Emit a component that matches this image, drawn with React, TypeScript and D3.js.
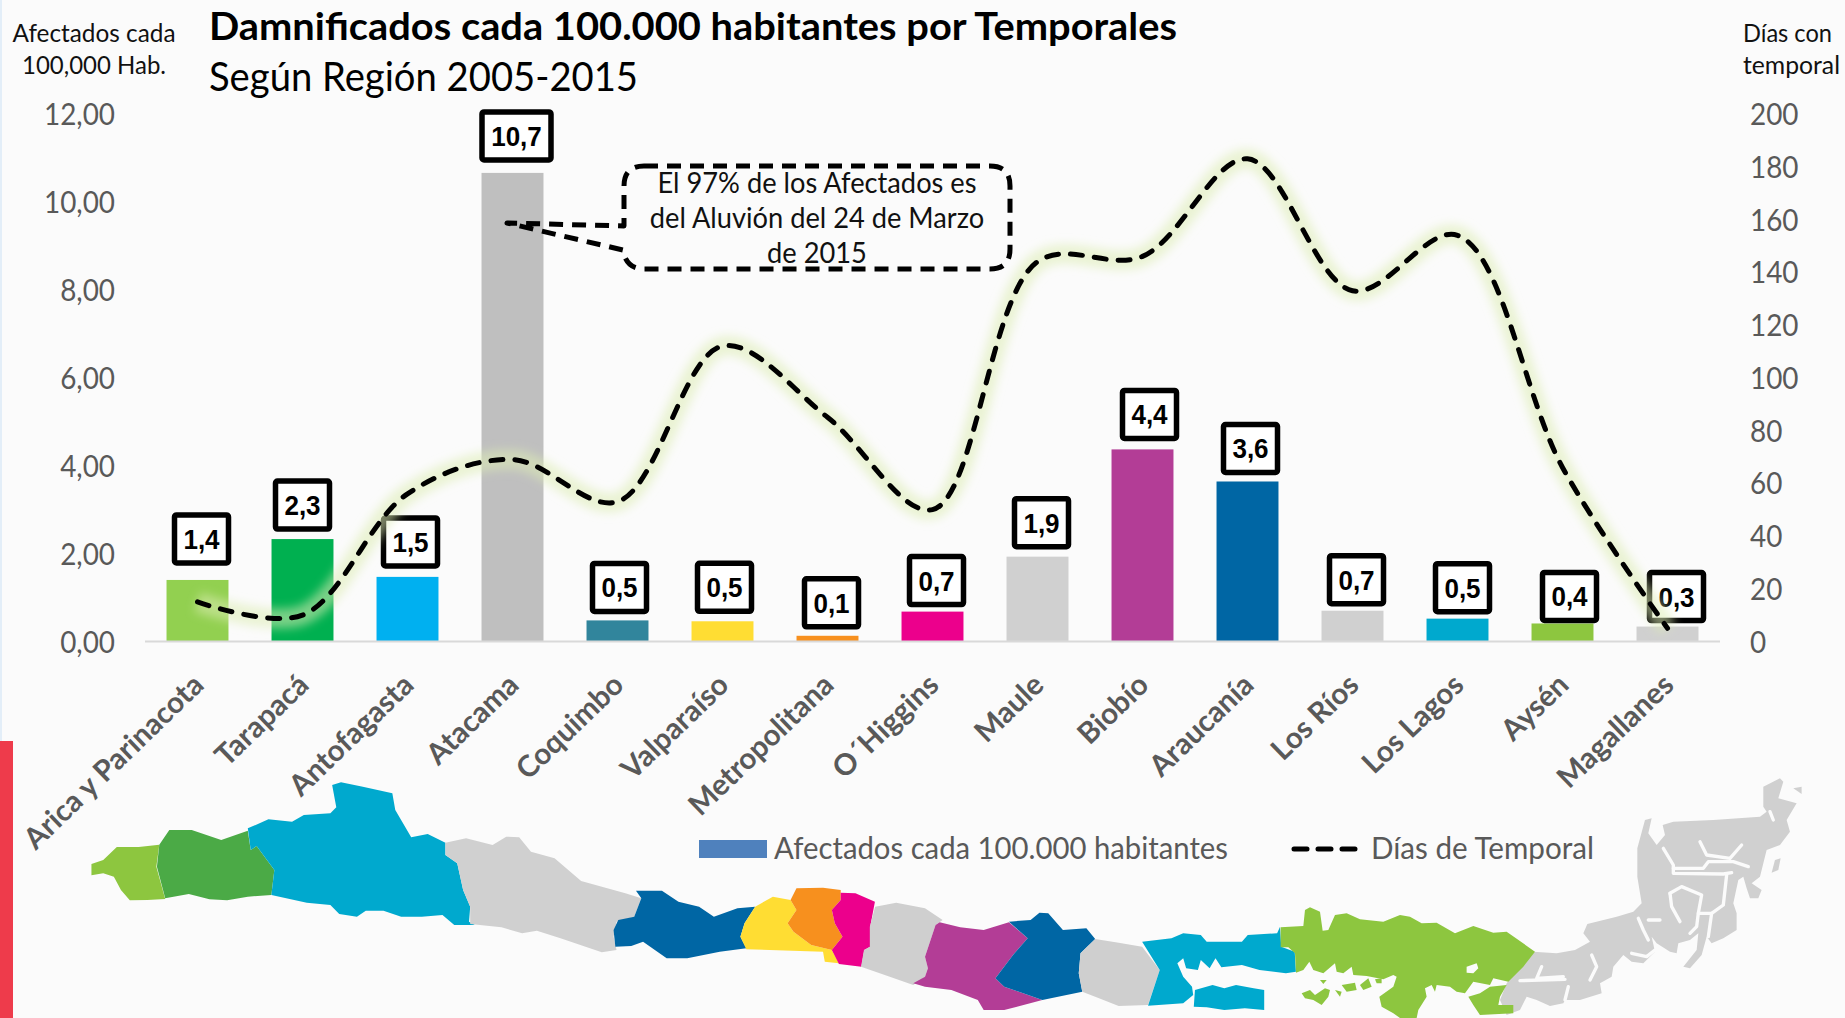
import React from "react";
import * as d3 from "d3";

const regions = ["Arica y Parinacota","Tarapacá","Antofagasta","Atacama","Coquimbo","Valparaíso","Metropolitana","O´Higgins","Maule","Biobío","Araucanía","Los Ríos","Los Lagos","Aysén","Magallanes"];
const afectados = [1.4,2.33,1.47,10.66,0.48,0.46,0.13,0.68,1.93,4.37,3.64,0.7,0.52,0.41,0.34];
const diasTemporal = [15,10,56,69,53,112,85,50,144,146,183,133,154,66,5];
const barColors = ["#92D050","#00B050","#00B0F0","#BFBFBF","#31859C","#FFDD33","#F7901E","#EC008C","#D0D0D0","#B33D96","#0066A4","#D0D0D0","#00A9CE","#8DC63F","#D0D0D0"];
const leftTicks = [0,2,4,6,8,10,12];
const rightTicks = [0,20,40,60,80,100,120,140,160,180,200];
const calloutLines = ["El 97% de los Afectados es","del Aluvión del 24 de Marzo","de 2015"];
// small per-label shifts of the value boxes
const labelDx = [0,-4,-1,0,-2,-2,0,0,0,3,-1,0,1,3,5];
const labelDy = [-6,1,0,-2,2,1,2,4,1,0,2,4,4,8,5];

// decorative map outline, traced in crops of the picture
type Shape = { c: string; p: number[][] };
const mapWest: Shape[] = [
  { c: "#8DC63F", p: [[155,432],[175,420],[198,381],[235,381],[270,374],[265,440],[280,537],[250,540],[220,541],[205,510],[193,470],[175,460],[155,466]] },
  { c: "#4BAA46", p: [[287,330],[325,330],[375,360],[420,332],[425,390],[435,378],[465,450],[460,525],[420,530],[385,541],[355,538],[320,522],[280,535],[266,440],[270,374]] },
  { c: "#00A9CE", p: [[420,325],[455,298],[495,305],[515,285],[560,280],[570,262],[563,195],[578,187],[615,200],[665,220],[670,270],[697,352],[725,342],[755,368],[755,405],[775,430],[785,510],[797,560],[795,605],[805,615],[770,615],[750,585],[715,590],[680,590],[650,572],[620,572],[605,590],[575,582],[560,555],[520,548],[460,525],[465,450],[435,378],[425,390]] },
  { c: "#D0D0D0", p: [[755,368],[790,355],[835,375],[858,350],[880,352],[900,395],[940,415],[985,483],[1060,520],[1087,535],[1075,590],[1045,605],[1040,650],[1045,690],[1020,697],[950,655],[910,632],[885,640],[850,622],[797,612],[797,560],[785,510],[775,430],[755,405]] },
  { c: "#0066A4", p: [[1078,512],[1122,512],[1150,545],[1185,560],[1210,590],[1250,565],[1280,560],[1262,610],[1255,650],[1265,685],[1220,695],[1165,715],[1130,715],[1090,665],[1070,678],[1043,680],[1040,630],[1048,600],[1075,590],[1087,535]] },
  { c: "#FFDD33", p: [[1280,560],[1310,530],[1340,540],[1350,570],[1335,610],[1345,635],[1375,675],[1410,690],[1422,730],[1398,725],[1395,695],[1265,688],[1255,650],[1262,610]] },
  { c: "#F7901E", p: [[1350,505],[1395,503],[1425,510],[1425,540],[1410,570],[1415,610],[1428,650],[1410,690],[1375,675],[1345,635],[1335,610],[1350,570],[1340,540]] },
  { c: "#EC008C", p: [[1425,518],[1450,520],[1483,545],[1475,620],[1475,680],[1465,690],[1460,740],[1422,732],[1410,690],[1428,650],[1415,610],[1410,570],[1425,540]] },
];
const mapEast: Shape[] = [
  { c: "#CFCFCF", p: [[-85,560],[-49,548],[0,565],[30,600],[18,615],[0,710],[5,745],[0,770],[-20,795],[-60,770],[-109,740],[-104,690],[-94,680],[-94,620]] },
  { c: "#B33D96", p: [[25,607],[60,622],[100,630],[143,607],[175,655],[150,705],[120,775],[135,800],[200,840],[135,870],[100,870],[90,840],[45,810],[0,800],[-20,790],[0,770],[5,745],[0,710],[18,615]] },
  { c: "#0066A4", p: [[143,605],[180,600],[195,578],[210,580],[235,630],[275,625],[290,657],[265,700],[262,760],[268,815],[200,840],[135,800],[120,775],[150,705],[175,655]] },
  { c: "#CFCFCF", p: [[290,657],[330,668],[370,680],[400,750],[380,855],[330,858],[290,830],[268,815],[262,760],[265,700]] },
  { c: "#00A9CE", p: [[370,665],[420,655],[440,640],[470,645],[480,665],[540,665],[550,645],[600,640],[605,620],[607,680],[630,695],[632,755],[615,760],[570,750],[540,735],[505,742],[495,715],[485,745],[470,720],[465,750],[445,745],[440,715],[430,730],[440,770],[455,800],[457,825],[440,850],[380,857],[400,750]] },
  { c: "#00A9CE", p: [[460,810],[490,795],[510,805],[530,795],[560,805],[578,810],[578,870],[545,865],[510,870],[480,862],[458,860]] },
];
const magallanes = [[100,545],[170,550],[225,540],[270,515],[250,490],[262,462],[350,440],[400,425],[425,400],[412,320],[412,235],[435,150],[455,145],[445,190],[470,225],[495,195],[488,165],[520,155],[640,150],[780,140],[800,125],[790,110],[790,50],[840,25],[850,35],[835,85],[890,100],[860,150],[870,185],[840,225],[800,240],[780,320],[755,340],[785,360],[775,385],[750,385],[740,355],[730,320],[715,330],[700,400],[710,430],[710,480],[670,505],[635,520],[620,500],[605,555],[570,595],[550,590],[590,540],[595,490],[570,510],[535,520],[530,550],[510,545],[470,520],[455,500],[465,545],[430,580],[395,575],[370,555],[340,590],[335,620],[300,640],[305,670],[240,690],[195,690],[190,700],[150,708],[110,690],[80,680],[60,720],[20,735],[0,690],[20,640],[50,600]];
const magallanesIslets = [[[825,270],[842,265],[835,300],[815,308]],[[880,55],[905,50],[905,72]]];
const fjords = [
  [[600,215],[620,255],[690,265],[725,225]],
  [[490,235],[520,285],[520,310],[670,312],[695,308]],
  [[520,295],[610,295],[625,275],[700,275],[745,290]],
  [[680,315],[670,405],[635,430],[625,500]],
  [[510,370],[545,350],[605,375],[595,430],[635,430]],
  [[510,370],[515,410],[540,455]],
  [[595,430],[590,470],[570,490]],
  [[415,445],[430,480],[445,510]],
  [[445,450],[480,450]],
  [[395,550],[440,560],[465,540]],
  [[275,555],[290,590],[270,630]],
  [[125,590],[110,625],[190,620]],
  [[60,632],[195,628]],
  [[205,650],[195,690]],
  [[810,125],[820,150]],
];
const aysen = [[62,112],[130,108],[135,60],[150,52],[180,65],[188,122],[205,120],[225,75],[260,70],[300,88],[370,95],[420,75],[450,80],[485,100],[530,98],[585,130],[640,108],[700,128],[740,125],[825,185],[790,230],[745,275],[700,265],[690,285],[640,275],[615,310],[590,305],[570,290],[530,285],[525,305],[515,285],[495,295],[500,320],[475,360],[470,384],[420,384],[400,370],[365,350],[358,320],[400,290],[410,260],[400,255],[370,268],[320,258],[280,255],[275,230],[250,250],[230,245],[225,220],[190,250],[160,240],[148,215],[130,240],[108,248],[105,190],[85,172],[62,172]];
const aysenIslands = [
  [[625,320],[660,310],[690,290],[740,285],[720,320],[715,345],[760,345],[760,370],[660,375],[640,345]],
  [[125,310],[150,300],[165,315],[195,295],[210,300],[205,320],[185,345],[160,330],[135,325]],
  [[225,300],[245,305],[240,320]],
  [[245,285],[285,278],[290,300],[260,305]],
  [[300,285],[325,265],[335,290],[310,300]],
  [[345,268],[365,265],[365,280],[350,280]],
  [[180,270],[200,270],[190,282]],
];
const aysenHole = [[620,230],[650,220],[655,235],[640,250],[620,248]];

const FONT = "Lato, 'Open Sans', sans-serif";
const GREY = "#595959";
const BG = "#FBFBFB";
const width = 1845, height = 1018;

const polyPath = (p: number[][]) => (d3.line()(p as [number, number][]) ?? "") + "Z";
const openPath = (p: number[][]) => d3.line()(p as [number, number][]) ?? "";

export default function App() {
  const x = d3.scaleBand<string>().domain(regions).range([145, 1720]).paddingInner(0.41).paddingOuter(0.205);
  const yL = d3.scaleLinear().domain([0, 12]).range([641.5, 114]);
  const yR = d3.scaleLinear().domain([0, 200]).range([641.5, 114]);
  const cx = (r: string) => (x(r) as number) + x.bandwidth() / 2;
  const line = d3.line<number>().x((_, i) => cx(regions[i])).y((d) => yR(d)).curve(d3.curveCatmullRom.alpha(0.5));
  const linePath = line(diasTemporal) ?? "";
  return (
    <svg width={width} height={height} viewBox={`0 0 ${width} ${height}`} style={{ position: "fixed", left: 0, top: 0, display: "block" }} fontFamily={FONT}>
      <defs>
        <filter id="glow" x="-10%" y="-10%" width="120%" height="120%"><feGaussianBlur stdDeviation="5" /></filter>
      </defs>
      <rect width={width} height={height} fill={BG} />
      <rect x={0} y={0} width={2} height={741} fill="#E3EEF8" />
      <rect x={0} y={741} width={13} height={277} fill="#EE3B4B" />

      <text x={209} y={40} fontSize={38} fontWeight={700} fill="#000" textLength={968} lengthAdjust="spacingAndGlyphs">Damnificados cada 100.000 habitantes por Temporales</text>
      <text x={209} y={91} fontSize={40} fill="#000" textLength={429} lengthAdjust="spacingAndGlyphs">Según Región 2005-2015</text>

      <text x={94} y={42} fontSize={25} textAnchor="middle" fill="#111" textLength={163} lengthAdjust="spacingAndGlyphs">Afectados cada</text>
      <text x={94} y={74} fontSize={25} textAnchor="middle" fill="#111" textLength={144} lengthAdjust="spacingAndGlyphs">100,000 Hab.</text>
      <text x={1743} y={42} fontSize={25} fill="#111" textLength={89} lengthAdjust="spacingAndGlyphs">Días con</text>
      <text x={1743} y={74} fontSize={25} fill="#111" textLength={97} lengthAdjust="spacingAndGlyphs">temporal</text>

      {leftTicks.map((t) => (
        <text key={t} transform={`translate(115,${yL(t) + 11}) scale(.93,1)`} fontSize={30} textAnchor="end" fill={GREY}>{t.toFixed(2).replace(".", ",")}</text>
      ))}
      {rightTicks.map((t) => (
        <text key={t} transform={`translate(1750,${yR(t) + 11}) scale(.93,1)`} fontSize={30} fill={GREY}>{t}</text>
      ))}

      {regions.map((r, i) => (
        <rect key={r} x={x(r)} y={yL(afectados[i])} width={x.bandwidth()} height={yL(0) - yL(afectados[i])} fill={barColors[i]} />
      ))}
      <line x1={145} x2={1720} y1={yL(0)} y2={yL(0)} stroke="#D9D9D9" strokeWidth={2} />

      {regions.map((r) => (
        <text key={r} transform={`translate(${cx(r) + 8},${687}) rotate(-44)`} textAnchor="end" fontSize={29.5} fontWeight={700} fill={GREY}>{r}</text>
      ))}

      {mapWest.map((s, i) => (
        <path key={i} transform={`translate(0,720) scale(${1 / 1.695},${1 / 3})`} d={polyPath(s.p)} fill={s.c} />
      ))}
      {mapEast.map((s, i) => (
        <path key={i} transform={`translate(925,720) scale(${1 / 1.704},${1 / 3})`} d={polyPath(s.p)} fill={s.c} />
      ))}
      <g transform="translate(1500,770) scale(0.3333)">
        <path d={polyPath(magallanes)} fill="#D0D0D0" />
        {magallanesIslets.map((p, i) => <path key={i} d={polyPath(p)} fill="#D0D0D0" />)}
        {fjords.map((p, i) => <path key={i} d={openPath(p)} fill="none" stroke={BG} strokeWidth={10} strokeLinejoin="round" strokeLinecap="round" />)}
      </g>
      <g transform="translate(1260,890) scale(0.3333)">
        <path d={polyPath(aysen)} fill="#8DC63F" />
        {aysenIslands.map((p, i) => <path key={i} d={polyPath(p)} fill="#8DC63F" />)}
        <path d={polyPath(aysenHole)} fill={BG} />
      </g>

      {/* callout */}
      <path d={`M644,166 H990 Q1010,166 1010,186 V249 Q1010,269 990,269 H644 Q626,269 623,250 L507,223 L624,226 V186 Q624,166 644,166 Z`} fill="none" stroke="#000" strokeWidth={5} strokeDasharray="14 9" strokeLinejoin="round" />
      {calloutLines.map((l, i) => (
        <text key={l} transform={`translate(817,${193 + i * 35}) scale(.94,1)`} fontSize={29} textAnchor="middle" fill="#111">{l}</text>
      ))}

      {regions.map((r, i) => {
        const bx = cx(r) + 4 + labelDx[i], by = yL(afectados[i]) - 35 + labelDy[i];
        const label = afectados[i].toFixed(1).replace(".", ",");
        const w = label.length > 3 ? 69 : 54;
        return (
          <g key={r}>
            <rect x={bx - w / 2} y={by - 24} width={w} height={48} rx={2} fill="#fff" stroke="#000" strokeWidth={5.5} />
            <text transform={`translate(${bx},${by + 10}) scale(.93,1)`} textAnchor="middle" fontSize={28} fontWeight={700} fontFamily="'Liberation Sans', Arial, sans-serif" fill="#000">{label}</text>
          </g>
        );
      })}

      <path d={linePath} fill="none" stroke="#DDEDB4" strokeOpacity={0.55} strokeWidth={20} filter="url(#glow)" />
      <path d={linePath} fill="none" stroke="#000" strokeWidth={5} strokeDasharray="12 12" strokeLinecap="round" />

      <rect x={699} y={840} width={68} height={18} fill="#4F81BD" />
      <text x={774} y={859} fontSize={30} fill={GREY} textLength={454} lengthAdjust="spacingAndGlyphs">Afectados cada 100.000 habitantes</text>
      <line x1={1294} x2={1356} y1={849} y2={849} stroke="#000" strokeWidth={5} strokeDasharray="13 11" strokeLinecap="round" />
      <text x={1371} y={859} fontSize={30} fill={GREY} textLength={223} lengthAdjust="spacingAndGlyphs">Días de Temporal</text>
    </svg>
  );
}
